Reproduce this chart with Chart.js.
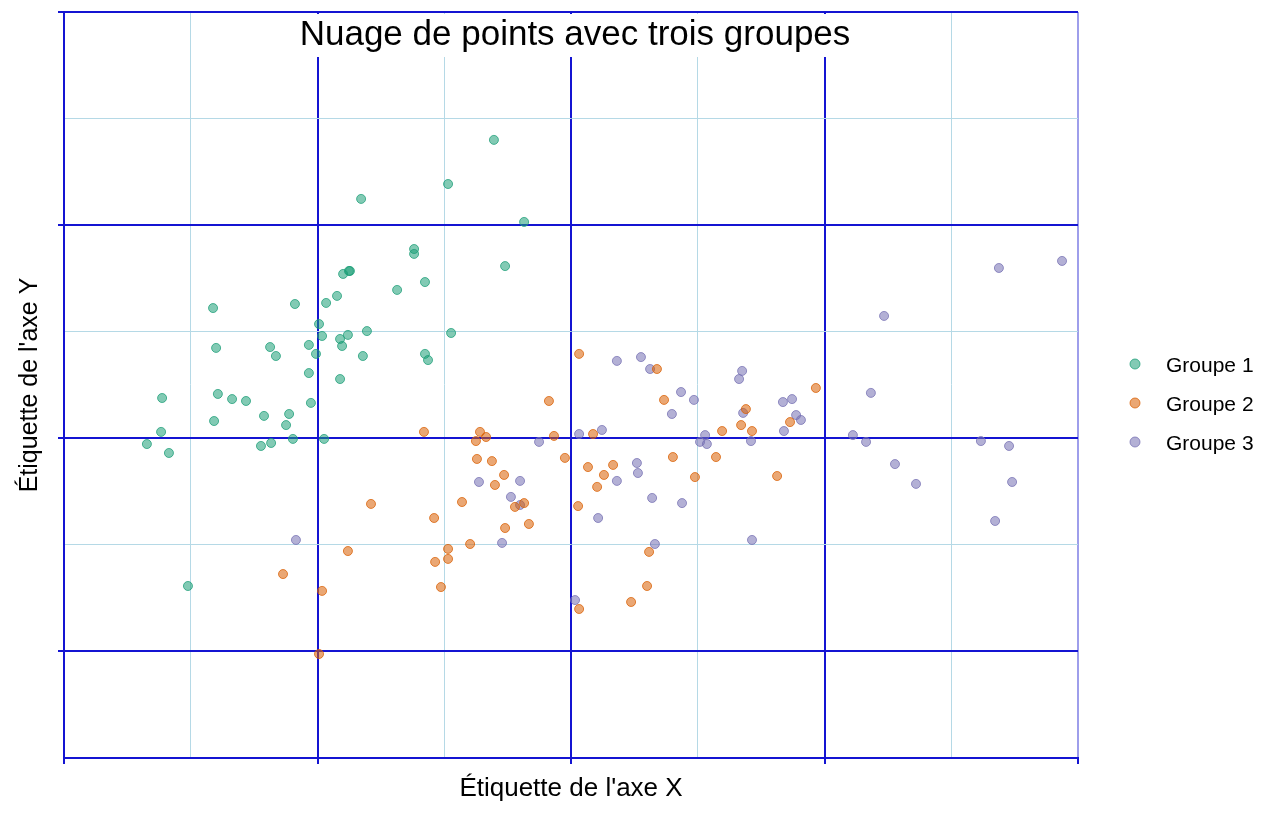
<!DOCTYPE html>
<html>
<head>
<meta charset="utf-8">
<script src="https://cdn.jsdelivr.net/npm/chart.js@4"></script>
<style>
  html, body { margin: 0; padding: 0; background: #fff; }
  #wrap { width: 1280px; height: 832px; }
</style>
</head>
<body>
<div id="wrap"><canvas id="c" width="1280" height="832"></canvas></div>
<script>
// ---- data ----
const chartTitle = "Nuage de points avec trois groupes";
const xAxisLabel = "Étiquette de l'axe X";
const yAxisLabel = "Étiquette de l'axe Y";
const groupNames = ["Groupe 1", "Groupe 2", "Groupe 3"];

const g1x = [-0.304,-0.485,-0.828,-0.185,-0.619,-0.619,-0.260,-0.899,-0.876,-0.872,-0.576,-0.686,-0.923,-0.966,-1.089,-1.412,-0.994,-0.982,-0.880,-0.805,-0.911,-0.473,-0.903,-1.400,-1.187,-1.164,-1.034,-1.006,-0.821,-0.576,-0.564,-1.034,-0.911,-1.613,-1.393,-1.337,-1.282,-1.026,-1.408,-1.211,-1.112,-1.124,-1.617,-1.673,-1.586,-1.223,-1.183,-1.097,-0.974,-1.511];
const g1y = [1.400,1.193,1.123,1.015,0.888,0.865,0.808,0.771,0.785,0.785,0.733,0.696,0.668,0.635,0.630,0.611,0.536,0.480,0.485,0.503,0.466,0.494,0.433,0.424,0.428,0.386,0.438,0.396,0.386,0.396,0.367,0.306,0.278,0.189,0.208,0.184,0.175,0.166,0.081,0.105,0.114,0.062,0.030,-0.027,-0.069,-0.036,-0.022,-0.003,-0.003,-0.693];

const g2x = [0.032,0.339,-0.087,0.367,0.966,0.690,0.671,0.596,0.714,0.864,-0.580,-0.359,-0.375,-0.335,-0.067,0.087,-0.024,-0.371,-0.312,0.402,0.572,0.067,0.166,0.130,0.103,0.489,0.813,-0.264,-0.300,-0.430,-0.185,-0.221,0.028,-0.789,-0.540,-0.260,-0.166,-0.398,-0.485,-0.880,-0.536,-0.485,0.308,-1.136,-0.513,0.300,-0.982,0.237,0.032,-0.994];
const g2y = [0.396,0.325,0.175,0.180,0.236,0.137,0.062,0.034,0.034,0.076,0.030,0.030,-0.013,0.006,0.011,0.020,-0.092,-0.097,-0.107,-0.088,-0.088,-0.135,-0.125,-0.172,-0.228,-0.182,-0.177,-0.172,-0.219,-0.299,-0.304,-0.322,-0.318,-0.308,-0.374,-0.421,-0.402,-0.496,-0.519,-0.529,-0.580,-0.566,-0.533,-0.637,-0.698,-0.693,-0.716,-0.768,-0.801,-1.012];

const g3x = [-1.085,0.016,-0.363,-0.201,-0.237,-0.201,-0.272,-0.126,0.032,0.122,0.107,0.181,0.276,0.312,0.434,0.485,0.398,0.260,0.264,0.181,0.320,0.438,0.331,0.509,0.529,0.536,0.675,0.663,0.679,0.710,0.714,0.836,0.872,0.888,0.907,0.840,1.112,1.164,1.183,1.235,1.278,1.361,1.617,1.728,1.740,1.673,1.688,1.937];
const g3y = [-0.477,-0.759,-0.205,-0.200,-0.275,-0.313,-0.491,-0.017,0.020,0.039,-0.374,0.363,0.381,0.325,0.217,0.180,0.114,-0.116,-0.163,-0.200,-0.280,-0.304,-0.496,-0.017,0.015,-0.027,0.316,0.278,0.119,-0.013,-0.477,0.170,0.184,0.109,0.086,0.034,0.015,-0.017,0.213,0.574,-0.121,-0.214,-0.013,-0.036,-0.205,-0.388,0.799,0.832];

// ---- styling ----
const FONT = "'Liberation Sans', Arial, Helvetica, sans-serif";
const MAJOR = '#1414d2';
const MINOR = '#b5d9e6';
const EDGE = 'rgba(40,40,210,0.45)';
const fills = ['rgba(27,158,119,0.55)', 'rgba(217,95,2,0.55)', 'rgba(117,112,179,0.55)'];
const strokes = ['rgba(27,158,119,0.75)', 'rgba(217,95,2,0.75)', 'rgba(117,112,179,0.75)'];

const toPts = (xs, ys) => xs.map((x, i) => ({ x: x, y: ys[i] }));
const seriesX = [g1x, g2x, g3x];
const seriesY = [g1y, g2y, g3y];

const isMajor = v => Math.abs(v - Math.round(v)) < 1e-6;

const overTitle = {
  id: 'overTitle',
  afterDatasetsDraw(chart) {
    const c = chart.ctx;
    c.save();
    c.font = "35px " + FONT;
    const w = c.measureText(chartTitle).width;
    const cx = 575;
    c.fillStyle = '#ffffff';
    c.fillRect(cx - w / 2 - 3, 14, w + 6, 43);
    c.fillStyle = '#000000';
    c.textAlign = 'center';
    c.textBaseline = 'alphabetic';
    c.fillText(chartTitle, cx, 45);
    c.restore();
  }
};

const sideLegend = {
  id: 'sideLegend',
  afterDraw(chart) {
    const c = chart.ctx;
    c.save();
    c.font = "21px " + FONT;
    c.textAlign = 'left';
    c.textBaseline = 'alphabetic';
    chart.data.datasets.forEach((ds, i) => {
      const cy = 364 + i * 39;
      c.beginPath();
      c.arc(1135, cy, 5, 0, Math.PI * 2);
      c.fillStyle = ds.backgroundColor;
      c.fill();
      c.lineWidth = 1;
      c.strokeStyle = ds.borderColor;
      c.stroke();
      c.fillStyle = '#000';
      c.fillText(ds.label, 1166, cy + 8);
    });
    c.restore();
  }
};

new Chart(document.getElementById('c'), {
  type: 'scatter',
  data: {
    datasets: groupNames.map((name, i) => ({
      label: name,
      data: toPts(seriesX[i], seriesY[i]),
      backgroundColor: fills[i],
      borderColor: strokes[i],
      borderWidth: 1,
      pointRadius: 4.5,
      pointHoverRadius: 4.5
    }))
  },
  options: {
    responsive: false,
    animation: false,
    devicePixelRatio: 1,
    events: [],
    layout: { padding: { top: 12, right: 202, left: 0, bottom: 0 } },
    plugins: { legend: { display: false }, title: { display: false }, tooltip: { enabled: false } },
    scales: {
      x: {
        type: 'linear',
        position: 'bottom',
        min: -2, max: 2,
        ticks: { stepSize: 0.5, display: false },
        grid: {
          color: ctx => { const v = ctx.tick.value; if (v >= 2 - 1e-6) return EDGE; return isMajor(v) ? MAJOR : MINOR; },
          lineWidth: ctx => isMajor(ctx.tick.value) ? 2 : 1,
          tickColor: ctx => { const v = ctx.tick.value; return isMajor(v) ? MAJOR : 'rgba(0,0,0,0)'; },
          tickWidth: 2,
          tickLength: 6,
          drawTicks: true
        },
        border: { display: true, color: MAJOR, width: 2 },
        title: { display: true, text: xAxisLabel, color: '#000', font: { family: FONT, size: 26 }, padding: { top: 0, bottom: 28 } },
        afterFit: s => { s.height = 74; }
      },
      y: {
        type: 'linear',
        position: 'left',
        min: -1.5, max: 2,
        ticks: { stepSize: 0.5, display: false },
        grid: {
          color: ctx => { const v = ctx.tick.value; if (v <= -1.5 + 1e-6) return MAJOR; return isMajor(v) ? MAJOR : MINOR; },
          lineWidth: ctx => { const v = ctx.tick.value; return (isMajor(v) || v <= -1.5 + 1e-6) ? 2 : 1; },
          tickColor: ctx => isMajor(ctx.tick.value) ? MAJOR : 'rgba(0,0,0,0)',
          tickWidth: 2,
          tickLength: 6,
          drawTicks: true
        },
        border: { display: true, color: MAJOR, width: 2 },
        title: { display: true, text: yAxisLabel, color: '#000', font: { family: FONT, size: 25 }, padding: { top: 15, bottom: 0 } },
        afterFit: s => { s.width = 64; }
      }
    }
  },
  plugins: [overTitle, sideLegend]
});
</script>
</body>
</html>
